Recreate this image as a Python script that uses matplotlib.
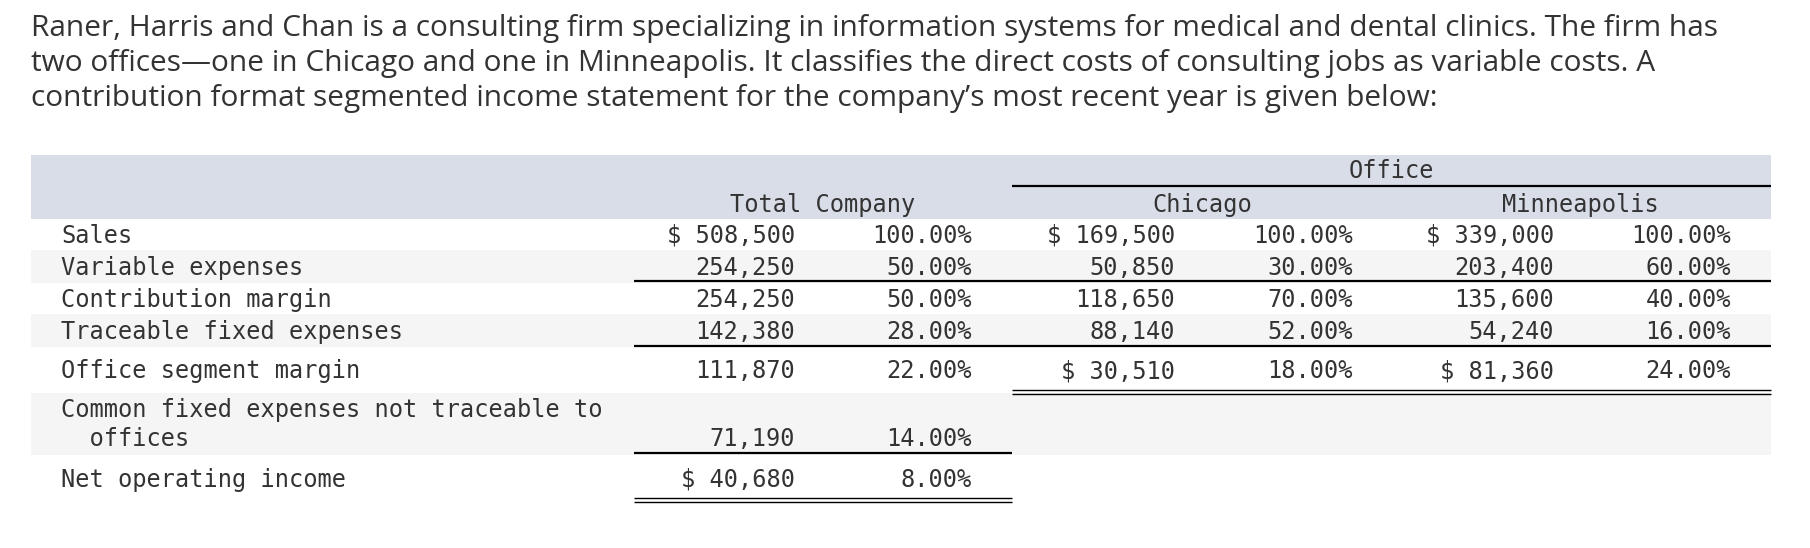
import matplotlib.pyplot as plt
from matplotlib.patches import Rectangle

W, H = 1810, 548

intro_lines = [
    "Raner, Harris and Chan is a consulting firm specializing in information systems for medical and dental clinics. The firm has",
    "two offices\u2014one in Chicago and one in Minneapolis. It classifies the direct costs of consulting jobs as variable costs. A",
    "contribution format segmented income statement for the company\u2019s most recent year is given below:",
]

row_labels = ["Sales", "Variable expenses", "Contribution margin", "Traceable fixed expenses",
              "Office segment margin", "Common fixed expenses not traceable to\n  offices",
              "Net operating income"]

total_amt = [508500, 254250, 254250, 142380, 111870, 71190, 40680]
total_pct = [100.0, 50.0, 50.0, 28.0, 22.0, 14.0, 8.0]
chicago_amt = [169500, 50850, 118650, 88140, 30510]
chicago_pct = [100.0, 30.0, 70.0, 52.0, 18.0]
minn_amt = [339000, 203400, 135600, 54240, 81360]
minn_pct = [100.0, 60.0, 40.0, 16.0, 24.0]

dollar_rows_total = [0, 6]
dollar_rows_office = [0, 4]

# layout (pixels)
intro_base = [36, 71, 106]
row_edges = [219, 250, 283, 314, 347, 393, 455, 510]
row_y = [236, 268, 300, 332, 371, 439, 480]
shaded = [1, 3, 5]
col_right = [795, 972, 1175, 1353, 1554, 1731]
left, right = 31, 1771
tot_x0, off_x0 = 634, 1012

mono = "DejaVu Sans Mono"
fs = 17.0
txt = "#333333"

fig = plt.figure(figsize=(W / 100, H / 100), dpi=100)
ax = fig.add_axes([0, 0, 1, 1])
ax.set_xlim(0, W)
ax.set_ylim(H, 0)
ax.axis('off')

for yb, line in zip(intro_base, intro_lines):
    ax.text(31, yb, line, family="Open Sans", fontsize=21.5, color=txt, va="baseline", ha="left")

# header band
ax.add_patch(Rectangle((left, 155), right - left, row_edges[0] - 155, color="#d9dde8", lw=0))
for r in shaded:
    ax.add_patch(Rectangle((left, row_edges[r]), right - left, row_edges[r + 1] - row_edges[r],
                           color="#f5f5f5", lw=0))

ax.text(1391, 171, "Office", family=mono, fontsize=fs, color=txt, ha="center", va="center")
ax.hlines(186, off_x0, right, color="black", lw=1.6)
ax.text(823, 205, "Total Company", family=mono, fontsize=fs, color=txt, ha="center", va="center")
ax.text(1202, 205, "Chicago", family=mono, fontsize=fs, color=txt, ha="center", va="center")
ax.text(1580, 205, "Minneapolis", family=mono, fontsize=fs, color=txt, ha="center", va="center")


def money(v, dollar):
    s = f"{v:,}"
    return "$ " + s if dollar else s


for i, lab in enumerate(row_labels):
    y = row_y[i]
    if "\n" in lab:
        first, second = lab.split("\n")
        ax.text(61, 410, first, family=mono, fontsize=fs, color=txt, va="center")
        ax.text(61, 439, second, family=mono, fontsize=fs, color=txt, va="center")
    else:
        ax.text(61, y, lab, family=mono, fontsize=fs, color=txt, va="center")
    ax.text(col_right[0], y, money(total_amt[i], i in dollar_rows_total), family=mono,
            fontsize=fs, color=txt, ha="right", va="center")
    ax.text(col_right[1], y, f"{total_pct[i]:.2f}%", family=mono,
            fontsize=fs, color=txt, ha="right", va="center")

for i in range(len(chicago_amt)):
    y = row_y[i]
    d = i in dollar_rows_office
    ax.text(col_right[2], y, money(chicago_amt[i], d), family=mono, fontsize=fs, color=txt,
            ha="right", va="center")
    ax.text(col_right[3], y, f"{chicago_pct[i]:.2f}%", family=mono, fontsize=fs, color=txt,
            ha="right", va="center")
    ax.text(col_right[4], y, money(minn_amt[i], d), family=mono, fontsize=fs, color=txt,
            ha="right", va="center")
    ax.text(col_right[5], y, f"{minn_pct[i]:.2f}%", family=mono, fontsize=fs, color=txt,
            ha="right", va="center")

# rules
ax.hlines([281, 346], tot_x0, right, color="black", lw=1.6)
ax.hlines([390, 394], off_x0, right, color="black", lw=1.0)
ax.hlines(453, tot_x0, off_x0, color="black", lw=1.6)
ax.hlines([498, 501.5], tot_x0, off_x0, color="black", lw=1.0)

fig.savefig("out.png", dpi=100, facecolor="white")
